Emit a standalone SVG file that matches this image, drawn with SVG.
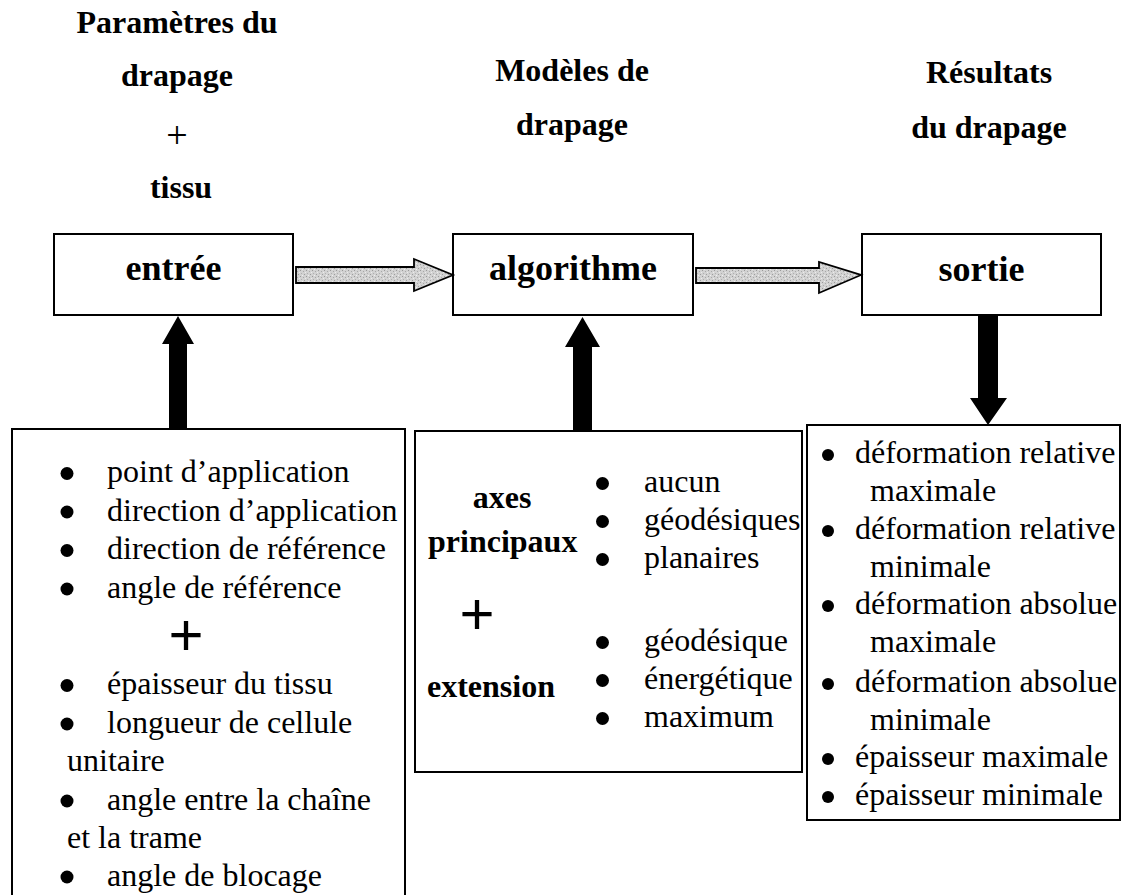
<svg xmlns="http://www.w3.org/2000/svg" width="1122" height="895" viewBox="0 0 1122 895">
  <defs>
    <!-- stippled grey fill for the flow arrows -->
    <pattern id="stipple" width="6" height="6" patternUnits="userSpaceOnUse">
      <rect width="6" height="6" fill="#d2d2d2"/>
      <rect x="0" y="0" width="1" height="1" fill="#9a9a9a"/>
      <rect x="3" y="1" width="1" height="1" fill="#a8a8a8"/>
      <rect x="1" y="3" width="1" height="1" fill="#b0b0b0"/>
      <rect x="4" y="4" width="1" height="1" fill="#9e9e9e"/>
      <rect x="5" y="2" width="1" height="1" fill="#ececec"/>
      <rect x="2" y="5" width="1" height="1" fill="#f0f0f0"/>
    </pattern>
    <style>
      .box { fill: #ffffff; stroke: #000000; stroke-width: 2; }
      .title { font-family: "Liberation Serif", "Times New Roman", serif; font-weight: bold; font-size: 32px; fill: #000; text-anchor: middle; }
      .label { font-family: "Liberation Serif", "Times New Roman", serif; font-weight: bold; font-size: 36px; fill: #000; text-anchor: middle; }
      .item { font-family: "Liberation Serif", "Times New Roman", serif; font-size: 32px; fill: #000; }
      .bold { font-family: "Liberation Serif", "Times New Roman", serif; font-weight: bold; font-size: 32px; fill: #000; }
      .dot { fill: #000; }
      .plus { font-family: "Liberation Sans", Arial, sans-serif; font-size: 60px; fill: #000; text-anchor: middle; }
      .flow { fill: url(#stipple); stroke: #000; stroke-width: 1.8; stroke-linejoin: miter; }
      .feed { fill: #000; stroke: none; }
    </style>
  </defs>

  <rect width="1122" height="895" fill="#ffffff"/>

  <!-- column headings -->
  <g id="heading-input">
    <text class="title" x="177" y="33">Paramètres du</text>
    <text class="title" x="177" y="86">drapage</text>
    <text class="title" x="177" y="148" style="font-weight:normal;font-size:38px">+</text>
    <text class="title" x="181" y="198">tissu</text>
  </g>
  <g id="heading-models">
    <text class="title" x="572" y="81">Modèles de</text>
    <text class="title" x="572" y="135">drapage</text>
  </g>
  <g id="heading-results">
    <text class="title" x="989" y="83">Résultats</text>
    <text class="title" x="989" y="138">du drapage</text>
  </g>

  <!-- main process boxes -->
  <g id="entree">
    <rect class="box" x="54" y="234" width="239" height="81"/>
    <text class="label" x="173.5" y="280">entrée</text>
  </g>
  <g id="algorithme">
    <rect class="box" x="453" y="234" width="240" height="81"/>
    <text class="label" x="573" y="280">algorithme</text>
  </g>
  <g id="sortie">
    <rect class="box" x="862" y="234" width="239" height="81"/>
    <text class="label" x="981.5" y="281">sortie</text>
  </g>

  <!-- input parameters -->
  <g id="parametres">
    <rect class="box" x="12" y="429" width="393" height="480"/>
    <circle class="dot" cx="67" cy="473.5" r="6.5"/>
    <text class="item" x="107" y="482">point d’application</text>
    <circle class="dot" cx="67" cy="512" r="6.5"/>
    <text class="item" x="107" y="520.5">direction d’application</text>
    <circle class="dot" cx="67" cy="550.5" r="6.5"/>
    <text class="item" x="107" y="559">direction de référence</text>
    <circle class="dot" cx="67" cy="589" r="6.5"/>
    <text class="item" x="107" y="597.5">angle de référence</text>
    <text class="plus" x="186" y="655">+</text>
    <circle class="dot" cx="67" cy="685.5" r="6.5"/>
    <text class="item" x="107" y="694">épaisseur du tissu</text>
    <circle class="dot" cx="67" cy="724" r="6.5"/>
    <text class="item" x="107" y="732.5">longueur de cellule</text>
    <text class="item" x="67" y="771">unitaire</text>
    <circle class="dot" cx="67" cy="801" r="6.5"/>
    <text class="item" x="107" y="809.5">angle entre la chaîne</text>
    <text class="item" x="67" y="848">et la trame</text>
    <circle class="dot" cx="67" cy="877" r="6.5"/>
    <text class="item" x="107" y="885.5">angle de blocage</text>
  </g>

  <!-- model options -->
  <g id="modeles">
    <rect class="box" x="415" y="431" width="387" height="341"/>
    <text class="bold" x="502" y="508" style="text-anchor:middle">axes</text>
    <text class="bold" x="428" y="552">principaux</text>
    <text class="plus" x="477" y="634">+</text>
    <text class="bold" x="427" y="697">extension</text>
    <circle class="dot" cx="602.5" cy="483.5" r="6.5"/>
    <text class="item" x="644" y="492">aucun</text>
    <circle class="dot" cx="602.5" cy="521.5" r="6.5"/>
    <text class="item" x="644" y="530">géodésiques</text>
    <circle class="dot" cx="602.5" cy="559.5" r="6.5"/>
    <text class="item" x="644" y="568">planaires</text>
    <circle class="dot" cx="602.5" cy="642.5" r="6.5"/>
    <text class="item" x="644" y="651">géodésique</text>
    <circle class="dot" cx="602.5" cy="680.5" r="6.5"/>
    <text class="item" x="644" y="689">énergétique</text>
    <circle class="dot" cx="602.5" cy="718.5" r="6.5"/>
    <text class="item" x="644" y="727">maximum</text>
  </g>

  <!-- draping results -->
  <g id="resultats">
    <rect class="box" x="807" y="425" width="313" height="395"/>
    <circle class="dot" cx="828" cy="455" r="6"/>
    <text class="item" x="855" y="463">déformation relative</text>
    <text class="item" x="870" y="501">maximale</text>
    <circle class="dot" cx="828" cy="531" r="6"/>
    <text class="item" x="855" y="539">déformation relative</text>
    <text class="item" x="870" y="577">minimale</text>
    <circle class="dot" cx="828" cy="606" r="6"/>
    <text class="item" x="855" y="614">déformation absolue</text>
    <text class="item" x="870" y="652">maximale</text>
    <circle class="dot" cx="828" cy="684" r="6"/>
    <text class="item" x="855" y="692">déformation absolue</text>
    <text class="item" x="870" y="730">minimale</text>
    <circle class="dot" cx="828" cy="759" r="6"/>
    <text class="item" x="855" y="767">épaisseur maximale</text>
    <circle class="dot" cx="828" cy="797" r="6"/>
    <text class="item" x="855" y="805">épaisseur minimale</text>
  </g>

  <!-- connectors -->
  <g id="connectors">
    <!-- horizontal flow arrows between the process boxes -->
    <path class="flow" d="M296,267 H414 V259 L453,275 L414,291 V283 H296 Z"/>
    <path class="flow" d="M696,268 H819 V262 L861,275 L819,293 V283 H696 Z"/>
    <!-- vertical feeds into and out of the process boxes -->
    <path class="feed" d="M169,429 V344 H162 L178,316 L194,344 H187 V429 Z"/>
    <path class="feed" d="M573,431 V347 H565 L582.5,317 L600,347 H592 V431 Z"/>
    <path class="feed" d="M978,315 V398 H970 L988,425 L1007,398 H998 V315 Z"/>
  </g>
</svg>
